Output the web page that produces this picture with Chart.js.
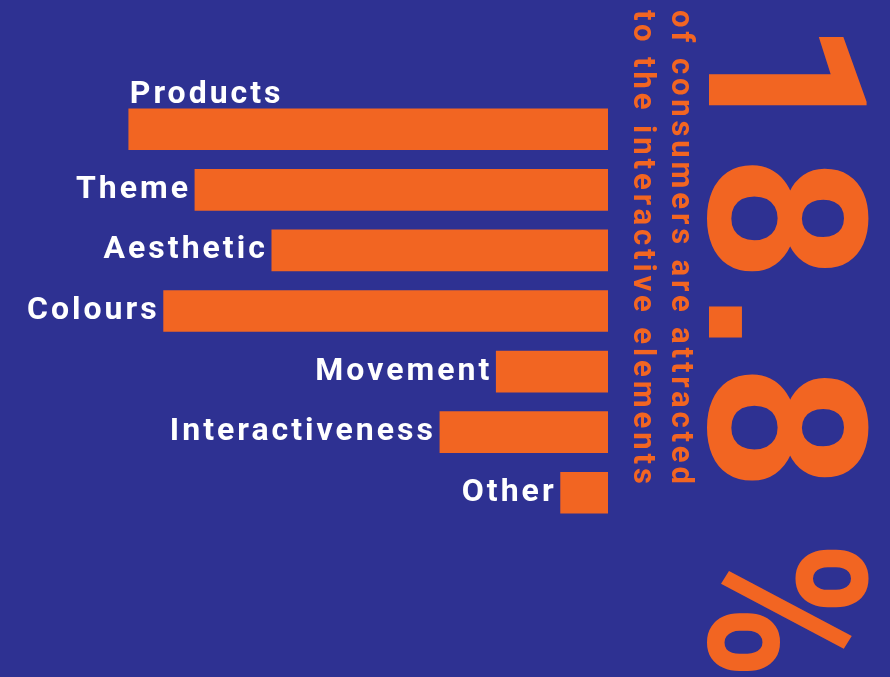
<!DOCTYPE html>
<html>
<head>
<meta charset="utf-8">
<script src="https://cdn.jsdelivr.net/npm/chart.js@4.4.1/dist/chart.umd.min.js"></script>
<style>
  html, body { margin: 0; padding: 0; }
  body { width: 890px; height: 677px; background: #2e3192; position: relative; overflow: hidden; }
  #chart { position: absolute; left: 0; top: 0; }
  .rot { position: absolute; transform: rotate(90deg); transform-origin: 0 0; white-space: nowrap; color: #f26522; }
  #headline { left: 896px; top: 19px; font: bold 220px/222px Roboto, sans-serif; letter-spacing: 10px; }
  #headline .dot { font-family: "Liberation Sans", Arial, sans-serif; letter-spacing: 12px; }
  #headline .pct { display: inline-block; margin-left: 40px; transform: scaleX(0.85); transform-origin: 0 0; }
  #caption { left: 701px; top: 10px; font: bold 31px/38px Roboto, sans-serif; }
  #caption .ln { width: max-content; }
</style>
</head>
<body>
<canvas id="chart" width="890" height="677"></canvas>
<div class="rot" id="headline">18<span class="dot">.</span>8<span class="pct">%</span></div>
<div class="rot" id="caption"><div class="ln">of consumers are attracted</div><div class="ln">to the interactive elements</div></div>
<script>
// what grabs consumers' attention, share of respondents (%)
const categories = ['Products', 'Theme', 'Aesthetic', 'Colours', 'Movement', 'Interactiveness', 'Other'];
const shares = [53.6, 46.2, 37.6, 49.7, 12.5, 18.8, 5.3];

const ORANGE = '#f26522';

// stretch each caption line to the same length
document.querySelectorAll('#caption .ln').forEach(ln => {
  const target = 474;
  const n = ln.textContent.length;
  const w = ln.getBoundingClientRect().height; // rotated, so height is the run length
  ln.style.letterSpacing = ((target - w) / (n - 1)).toFixed(2) + 'px';
});

// category names sit just left of each bar; the first one goes above its bar
const barLabels = {
  id: 'barLabels',
  afterDatasetsDraw(chart) {
    const ctx = chart.ctx;
    const meta = chart.getDatasetMeta(0);
    ctx.save();
    ctx.fillStyle = '#ffffff';
    ctx.font = 'bold 32px Roboto, sans-serif';
    ctx.letterSpacing = '3px';
    ctx.textBaseline = 'alphabetic';
    meta.data.forEach((bar, i) => {
      const left = bar.x;
      if (i === 0) {
        ctx.textAlign = 'left';
        ctx.fillText(categories[i], left + 1, bar.y - bar.height / 2 - 6);
      } else {
        ctx.textAlign = 'right';
        ctx.fillText(categories[i], left - 4, bar.y + 8);
      }
    });
    ctx.restore();
  }
};

new Chart(document.getElementById('chart'), {
  type: 'bar',
  data: {
    labels: categories,
    datasets: [{
      data: shares,
      backgroundColor: ORANGE,
      borderWidth: 0,
      barThickness: 41
    }]
  },
  options: {
    indexAxis: 'y',
    responsive: false,
    animation: false,
    layout: { padding: { left: 0, right: 282, top: 99, bottom: 154 } },
    plugins: { legend: { display: false }, tooltip: { enabled: false } },
    scales: {
      x: { display: false, reverse: true, min: 0, max: 68 },
      y: { display: false, grid: { display: false } }
    }
  },
  plugins: [barLabels]
});
</script>
</body>
</html>
